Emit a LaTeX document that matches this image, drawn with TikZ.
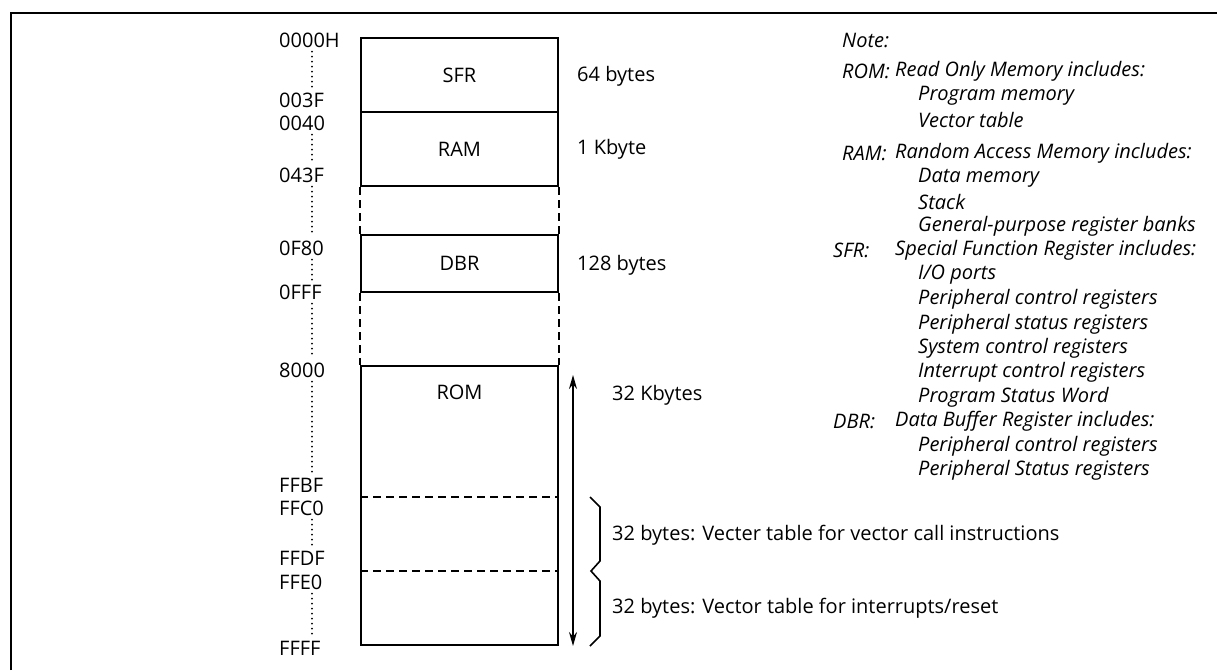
\documentclass[tikz,border=0pt]{standalone}
\usepackage{fontspec}
\setmainfont{Open Sans}
\usetikzlibrary{arrows.meta,positioning,calc}
\newcommand\memfont{\fontsize{20}{24}\selectfont}
\tikzset{
  >={Stealth[length=14pt,width=8pt]},
  block/.style={draw,line width=2pt,minimum width=197pt,inner sep=0pt,font=\memfont},
  addr/.style={anchor=west,inner sep=0pt,font=\memfont},
  sizetag/.style={anchor=west,inner sep=0pt,font=\memfont},
  note/.style={anchor=west,inner sep=0pt,font=\memfont\itshape},
  addr dots/.style={line width=2pt,line cap=round,dash pattern=on 0pt off 5pt,
    shorten <=4pt,shorten >=4pt},
  side dash/.style={line width=2pt,dash pattern=on 8pt off 5pt},
  span/.style={<->,line width=1.6pt},
  brk/.style={line width=1.6pt},
  frame/.style={line width=2pt},
}
\begin{document}
\begin{tikzpicture}[x=1pt,y=-1pt]
  \useasboundingbox (0,0) rectangle (1217,670);
  \draw[frame] (11,670) -- (11,13) -- (1217,13);

  % memory blocks
  \node[block,minimum height=74pt] (sfr) at (459.5,75) {SFR};
  \node[block,minimum height=74pt] (ram) at (459.5,149) {RAM};
  \node[block,minimum height=57pt] (dbr) at (459.5,263.5) {DBR};
  \node[block,minimum height=279pt] (rom) at (459.5,505.5) {};
  \node[font=\memfont,inner sep=0pt,below=20pt of rom.north] (romtxt) {ROM};

  \draw[side dash] (ram.south west) -- (dbr.north west);
  \draw[side dash] (ram.south east) -- (dbr.north east);
  \draw[side dash] (dbr.south west) -- (rom.north west);
  \draw[side dash] (dbr.south east) -- (rom.north east);

  \coordinate (vc) at (0,497);
  \coordinate (vi) at (0,571);
  \draw[side dash] (vc -| rom.west) -- (vc -| rom.east);
  \draw[side dash] (vi -| rom.west) -- (vi -| rom.east);

  % addresses
  \foreach \n/\t/\y in {a0000/0000H/40, a003F/003F/100, a0040/0040/123, a043F/043F/175,
      a0F80/0F80/248, a0FFF/0FFF/292, a8000/8000/370, aFFBF/FFBF/485, aFFC0/FFC0/508,
      aFFDF/FFDF/558, aFFE0/FFE0/582, aFFFF/FFFF/648}
    \node[addr] (\n) at (279,\y) {\t};
  \coordinate (dx) at (312,0);
  \foreach \a/\b in {a0000/a003F, a0040/a043F, a043F/a0F80, a0F80/a0FFF,
      a0FFF/a8000, a8000/aFFBF, aFFC0/aFFDF, aFFE0/aFFFF}
    \draw[addr dots] (\a.south -| dx) -- (\b.north -| dx);

  % sizes
  \node[sizetag] (s64) at (577,76) {64 bytes};
  \node[sizetag] (s1k) at (577,149) {1 Kbyte};
  \node[sizetag] (s128) at (577,265) {128 bytes};
  \coordinate (kt) at (573,375);
  \draw[span] (kt) -- (kt |- rom.south);
  \node[sizetag] (s32k) at (612,395) {32 Kbytes};

  \draw[brk] (590,497) -- (600,507) -- (600,561) -- (591,571) -- (600,581)
    -- (600,636) -- (590,646);
  \node[sizetag] (vcall) at (612,535) {32 bytes: Vecter table for vector call instructions};
  \node[sizetag] (vint) at (612,608) {32 bytes: Vector table for interrupts/reset};

  % notes
  \node[note] (note) at (842,40) {Note:};
  \node[note] (romtag) at (842,71) {ROM:};
  \node[note] (romdesc) at (895,71) {Read Only Memory includes:};
  \node[note] (ramtag) at (842,153) {RAM:};
  \node[note] (ramdesc) at (895,153) {Random Access Memory includes:};
  \node[note] (sfrtag) at (833,250.6) {SFR:};
  \node[note] (sfrdesc) at (895,250.6) {Special Function Register includes:};
  \node[note] (dbrtag) at (833,421.4) {DBR:};
  \node[note] (dbrdesc) at (895,421.4) {Data Buffer Register includes:};
  \foreach \y/\t [count=\i] in {96/Program memory, 120/Vector table,
      177.4/Data memory, 201.8/Stack, 226.2/General-purpose register banks,
      275/{I/O ports}, 299.4/Peripheral control registers,
      323.8/Peripheral status registers, 348.2/System control registers,
      372.6/Interrupt control registers, 397/Program Status Word,
      445.8/Peripheral control registers, 470.2/Peripheral Status registers}
    \node[note] (item\i) at (918,\y) {\t};
\end{tikzpicture}
\end{document}
